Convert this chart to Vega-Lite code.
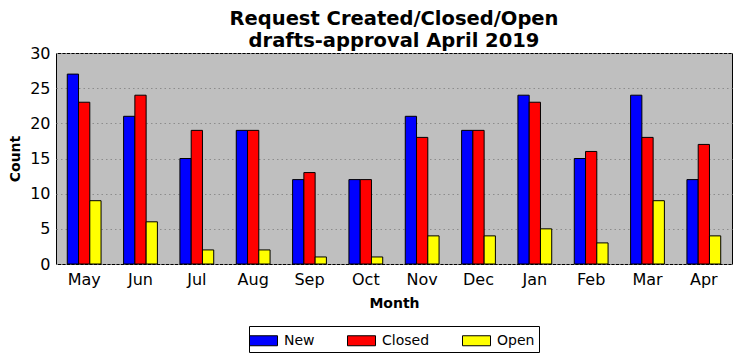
{
  "$schema": "https://vega.github.io/schema/vega-lite/v6.json",
  "autosize": {"type": "none"},
  "padding": {"left": 56, "top": 53, "right": 10, "bottom": 97},
  "width": 676,
  "height": 211,
  "background": "white",
  "title": {
    "text": ["Request Created/Closed/Open", "drafts-approval April 2019"],
    "font": "DejaVu Sans",
    "fontSize": 19.5,
    "fontWeight": "bold",
    "color": "black",
    "anchor": "middle",
    "offset": -6,
    "lineHeight": 22
  },
  "config": {
    "font": "DejaVu Sans",
    "view": {"fill": "#bfbfbf", "stroke": "black", "strokeWidth": 1}
  },
  "data": {
    "values": [
      {"month": "May", "type": "New", "count": 27},
      {"month": "May", "type": "Closed", "count": 23},
      {"month": "May", "type": "Open", "count": 9},
      {"month": "Jun", "type": "New", "count": 21},
      {"month": "Jun", "type": "Closed", "count": 24},
      {"month": "Jun", "type": "Open", "count": 6},
      {"month": "Jul", "type": "New", "count": 15},
      {"month": "Jul", "type": "Closed", "count": 19},
      {"month": "Jul", "type": "Open", "count": 2},
      {"month": "Aug", "type": "New", "count": 19},
      {"month": "Aug", "type": "Closed", "count": 19},
      {"month": "Aug", "type": "Open", "count": 2},
      {"month": "Sep", "type": "New", "count": 12},
      {"month": "Sep", "type": "Closed", "count": 13},
      {"month": "Sep", "type": "Open", "count": 1},
      {"month": "Oct", "type": "New", "count": 12},
      {"month": "Oct", "type": "Closed", "count": 12},
      {"month": "Oct", "type": "Open", "count": 1},
      {"month": "Nov", "type": "New", "count": 21},
      {"month": "Nov", "type": "Closed", "count": 18},
      {"month": "Nov", "type": "Open", "count": 4},
      {"month": "Dec", "type": "New", "count": 19},
      {"month": "Dec", "type": "Closed", "count": 19},
      {"month": "Dec", "type": "Open", "count": 4},
      {"month": "Jan", "type": "New", "count": 24},
      {"month": "Jan", "type": "Closed", "count": 23},
      {"month": "Jan", "type": "Open", "count": 5},
      {"month": "Feb", "type": "New", "count": 15},
      {"month": "Feb", "type": "Closed", "count": 16},
      {"month": "Feb", "type": "Open", "count": 3},
      {"month": "Mar", "type": "New", "count": 24},
      {"month": "Mar", "type": "Closed", "count": 18},
      {"month": "Mar", "type": "Open", "count": 9},
      {"month": "Apr", "type": "New", "count": 12},
      {"month": "Apr", "type": "Closed", "count": 17},
      {"month": "Apr", "type": "Open", "count": 4}
    ]
  },
  "mark": {"type": "bar", "stroke": "black", "strokeWidth": 1},
  "encoding": {
    "x": {
      "field": "month", "type": "nominal", "sort": null,
      "scale": {"paddingInner": 0.4, "paddingOuter": 0.2},
      "axis": {
        "title": "Month", "titleFontSize": 14, "titleFontWeight": "bold", "titleColor": "black",
        "titlePadding": 9,
        "labelAngle": 0, "labelFontSize": 16, "labelColor": "black", "labelPadding": 7,
        "ticks": false, "domain": false, "grid": false
      }
    },
    "xOffset": {"field": "type", "type": "nominal", "sort": ["New", "Closed", "Open"], "scale": {"paddingInner": 0, "paddingOuter": 0}},
    "y": {
      "field": "count", "type": "quantitative",
      "scale": {"domain": [0, 30], "nice": false},
      "axis": {
        "title": "Count", "titleFontSize": 14, "titleFontWeight": "bold", "titleColor": "black",
        "titlePadding": 7,
        "values": [0, 5, 10, 15, 20, 25, 30],
        "labelFontSize": 16, "labelColor": "black", "labelPadding": 6,
        "ticks": false, "domain": false,
        "grid": true, "gridColor": "#8c8c8c", "gridDash": [1.5, 3], "gridWidth": 1
      }
    },
    "color": {
      "field": "type", "type": "nominal", "sort": ["New", "Closed", "Open"],
      "scale": {"domain": ["New", "Closed", "Open"], "range": ["#0000ff", "#ff0000", "#ffff00"]},
      "legend": {
        "title": null, "orient": "none", "direction": "horizontal",
        "legendX": 193, "legendY": 273,
        "strokeColor": "black", "fillColor": "white", "padding": 4,
        "symbolType": "M-1.4,-0.5H1.4V0.5H-1.4Z", "symbolSize": 400,
        "symbolStrokeColor": "black", "symbolStrokeWidth": 1,
        "labelFontSize": 14, "labelColor": "black", "columnPadding": 30, "labelOffset": 10
      }
    }
  }
}
